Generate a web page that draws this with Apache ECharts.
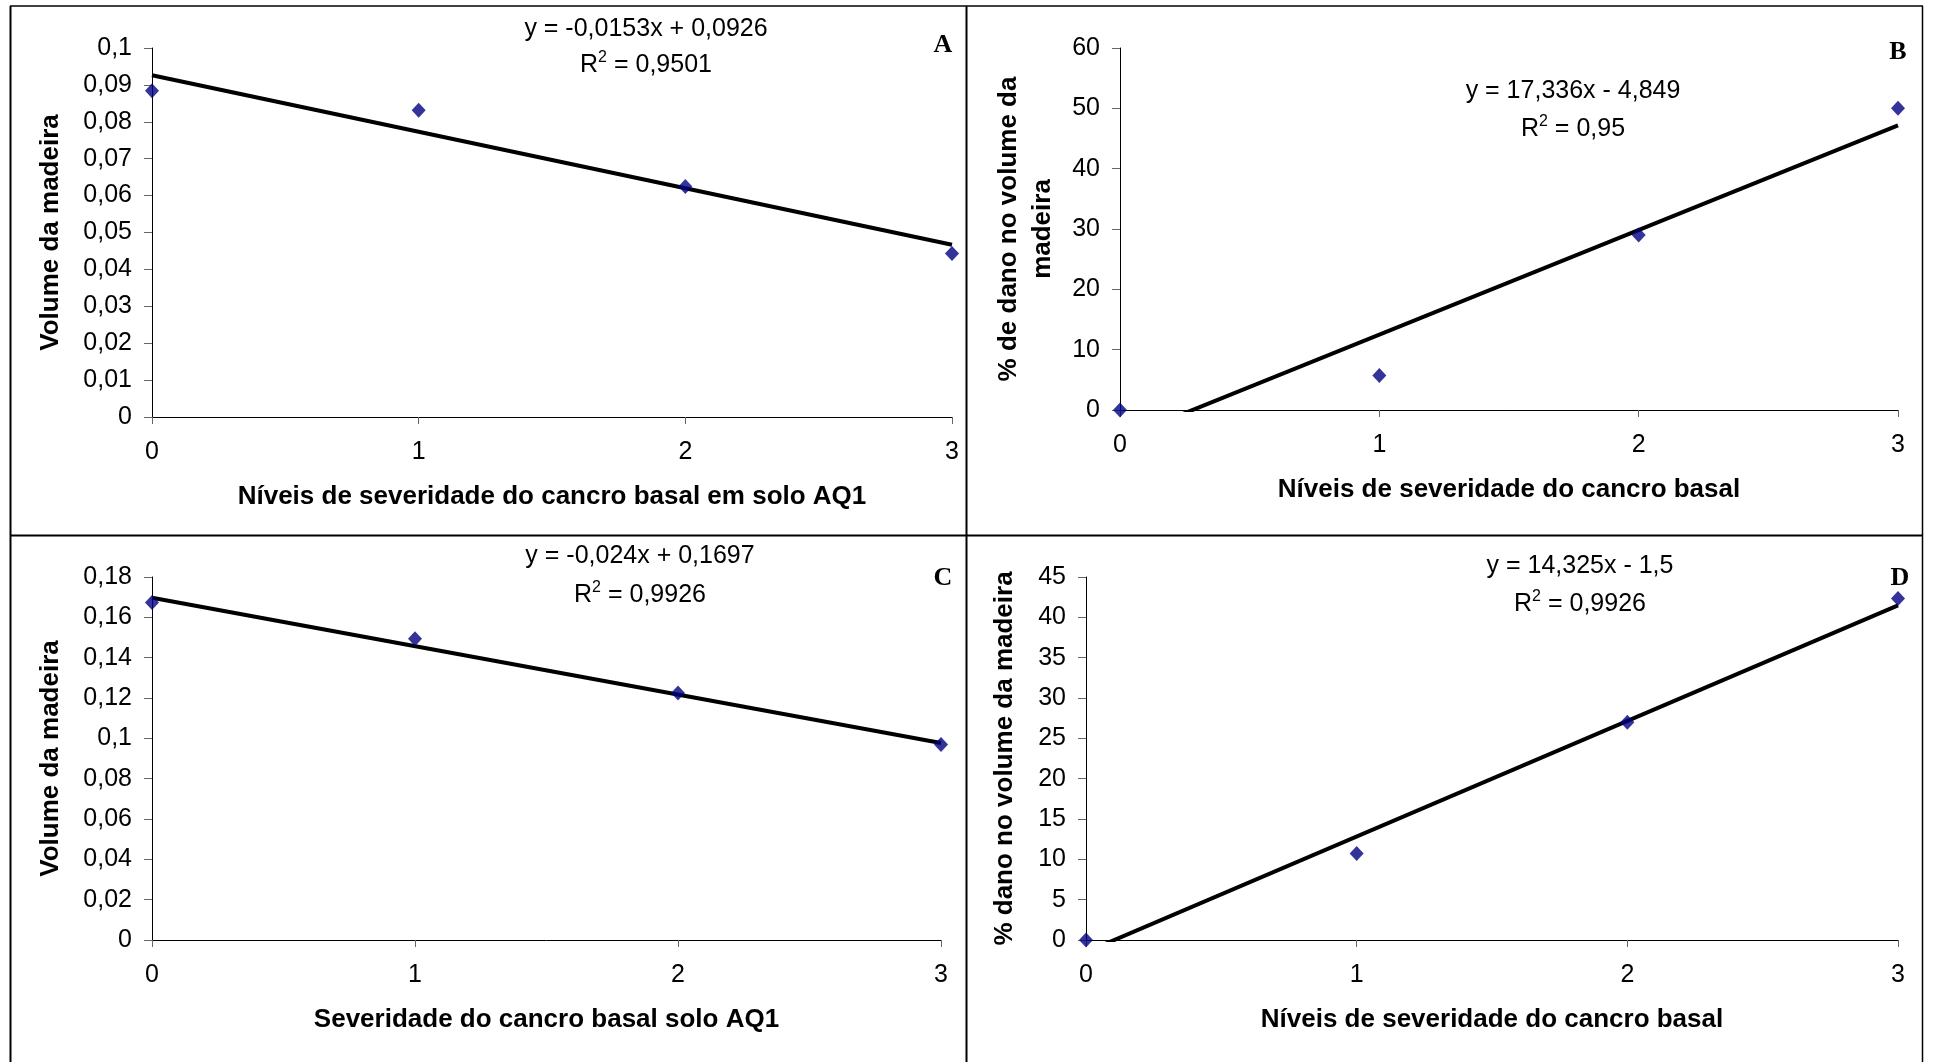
<!DOCTYPE html>
<html>
<head>
<meta charset="utf-8">
<script src="https://cdn.jsdelivr.net/npm/echarts@6/dist/echarts.min.js"></script>
<style>
html,body{margin:0;padding:0;background:#fff;}
#c{width:1933px;height:1062px;}
</style>
</head>
<body>
<div id="c"></div>
<script>
// ---- data ----
var xLevels = [0, 1, 2, 3];
var xTickLabels = ['0', '1', '2', '3'];

var volA = [0.0884, 0.0831, 0.0625, 0.0443];
var danoB = [0, 5.72, 29.0, 50.0];
var volC = [0.1674, 0.1494, 0.1225, 0.0969];
var danoD = [0, 10.72, 27.0, 42.35];

var trendSlopes = [-0.0153, 17.336, -0.024, 14.325];
var trendIntercepts = [0.0926, -4.849, 0.1697, -1.5];

var eqTexts = ['y = -0,0153x + 0,0926', 'y = 17,336x - 4,849', 'y = -0,024x + 0,1697', 'y = 14,325x - 1,5'];
var r2Texts = ['0,9501', '0,95', '0,9926', '0,9926'];
var panelLetters = ['A', 'B', 'C', 'D'];

var yTicksA = ['0', '0,01', '0,02', '0,03', '0,04', '0,05', '0,06', '0,07', '0,08', '0,09', '0,1'];
var yTicksB = ['0', '10', '20', '30', '40', '50', '60'];
var yTicksC = ['0', '0,02', '0,04', '0,06', '0,08', '0,1', '0,12', '0,14', '0,16', '0,18'];
var yTicksD = ['0', '5', '10', '15', '20', '25', '30', '35', '40', '45'];

var xTitles = ['Níveis de severidade do cancro basal em solo AQ1', 'Níveis de severidade do cancro basal',
               'Severidade do cancro basal solo AQ1', 'Níveis de severidade do cancro basal'];
var yTitles = ['Volume da madeira', '% de dano no volume da\nmadeira', 'Volume da madeira', '% dano no volume da madeira'];

// ---- layout ----
var FONT = '"Liberation Sans", Arial, sans-serif';
var grids = [
  {left: 152, top: 48, width: 800, height: 369},
  {left: 1120, top: 48, width: 778, height: 362},
  {left: 152, top: 577, width: 789, height: 363},
  {left: 1086, top: 577, width: 812, height: 363}
];
var yCfg = [
  {max: 0.1, interval: 0.01, ticks: yTicksA, gap: 84},
  {max: 60, interval: 10, ticks: yTicksB, gap: 60},
  {max: 0.18, interval: 0.02, ticks: yTicksC, gap: 84},
  {max: 45, interval: 5, ticks: yTicksD, gap: 64}
];
var seriesData = [volA, danoB, volC, danoD];
var eqPos = [
  {x: 646, y1: 29, y2: 64},
  {x: 1573, y1: 91, y2: 128},
  {x: 640, y1: 556, y2: 594},
  {x: 1580, y1: 566, y2: 603}
];
var letterPos = [[943, 45], [1898, 52], [943, 578], [1900, 578]];

var xAxes = [], yAxes = [], series = [], graphics = [];
for (var i = 0; i < 4; i++) {
  (function (i) {
    xAxes.push({
      type: 'value', gridIndex: i, min: 0, max: 3, interval: 1,
      name: xTitles[i], nameLocation: 'middle', nameGap: 67,
      nameTextStyle: {fontFamily: FONT, fontWeight: 'bold', fontSize: 26, color: '#000'},
      axisLine: {show: true, lineStyle: {color: '#000', width: 1}},
      axisTick: {show: true, inside: false, length: 7, lineStyle: {color: '#666'}},
      axisLabel: {fontFamily: FONT, fontSize: 25, color: '#000', margin: 23,
        formatter: function (v) { return xTickLabels[Math.round(v)]; }},
      splitLine: {show: false}
    });
    var yc = yCfg[i];
    yAxes.push({
      type: 'value', gridIndex: i, min: 0, max: yc.max, interval: yc.interval,
      name: yTitles[i], nameLocation: 'middle', nameGap: yc.gap, nameRotate: 90,
      nameTextStyle: {fontFamily: FONT, fontWeight: 'bold', fontSize: 26, color: '#000', lineHeight: 34},
      axisLine: {show: true, lineStyle: {color: '#000', width: 1}},
      axisTick: {show: true, inside: false, length: 8, lineStyle: {color: '#666'}},
      axisLabel: {fontFamily: FONT, fontSize: 25, color: '#000', margin: 20,
        formatter: function (v) { return yc.ticks[Math.round(v / yc.interval)]; }},
      splitLine: {show: false}
    });
    var trend = [[xLevels[0], trendIntercepts[i] + trendSlopes[i] * xLevels[0]],
                 [xLevels[3], trendIntercepts[i] + trendSlopes[i] * xLevels[3]]];
    series.push({
      type: 'line', xAxisIndex: i, yAxisIndex: i, data: trend, showSymbol: false,
      clip: true, lineStyle: {color: '#000', width: 4}, z: 2, silent: true
    });
    series.push({
      type: 'scatter', xAxisIndex: i, yAxisIndex: i,
      data: xLevels.map(function (x, k) { return [x, seriesData[i][k]]; }),
      symbol: 'diamond', symbolSize: [14, 15], itemStyle: {color: '#000080'}, z: 3
    });
    graphics.push({
      type: 'text', x: eqPos[i].x, y: eqPos[i].y1,
      style: {text: eqTexts[i], fill: '#000', font: '25px ' + FONT, align: 'center', verticalAlign: 'middle'}
    });
    graphics.push({
      type: 'text', x: eqPos[i].x, y: eqPos[i].y2,
      style: {
        text: '{n|R}{s|2}{n| = ' + r2Texts[i] + '}', align: 'center', verticalAlign: 'middle',
        rich: {
          n: {fontFamily: FONT, fontSize: 25, fill: '#000', color: '#000', lineHeight: 28, verticalAlign: 'bottom'},
          s: {fontFamily: FONT, fontSize: 16, fill: '#000', color: '#000', lineHeight: 28, verticalAlign: 'top'}
        }
      }
    });
    graphics.push({
      type: 'text', x: letterPos[i][0], y: letterPos[i][1],
      style: {text: panelLetters[i], fill: '#000', font: 'bold 26px "Liberation Serif", "Times New Roman", serif',
              align: 'center', verticalAlign: 'middle'}
    });
  })(i);
}
// frame lines
var frameLines = [
  [10, 6, 1923, 6, 1.5],
  [10.5, 6, 10.5, 1062, 2],
  [1922.5, 6, 1922.5, 1062, 1.5],
  [966.5, 6, 966.5, 1062, 2],
  [10, 535.5, 1923, 535.5, 2]
];
frameLines.forEach(function (l) {
  graphics.push({type: 'line', shape: {x1: l[0], y1: l[1], x2: l[2], y2: l[3]},
                 style: {stroke: '#000', lineWidth: l[4]}, silent: true});
});

var chart = echarts.init(document.getElementById('c'), null, {renderer: 'canvas'});
chart.setOption({
  animation: false,
  backgroundColor: '#fff',
  grid: grids,
  xAxis: xAxes,
  yAxis: yAxes,
  series: series,
  graphic: graphics
});
</script>
</body>
</html>
